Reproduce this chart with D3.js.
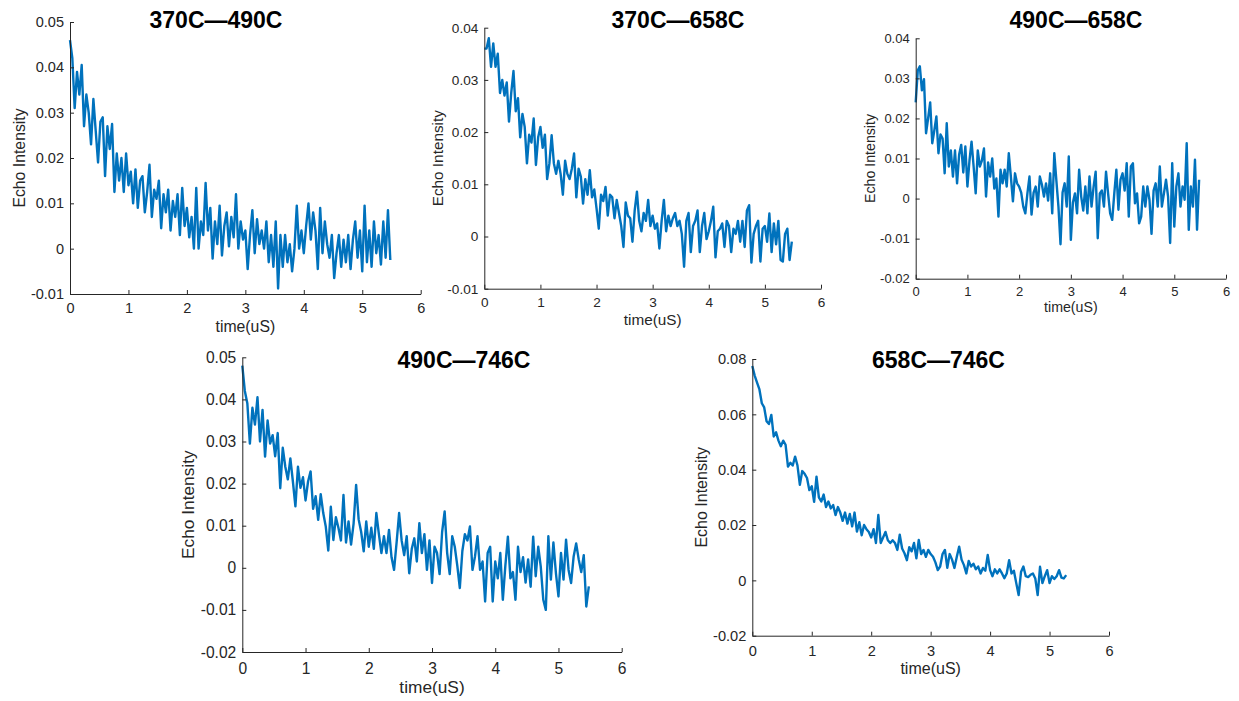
<!DOCTYPE html>
<html>
<head>
<meta charset="utf-8">
<script src="https://cdn.jsdelivr.net/npm/d3@7"></script>
<style>
  body { margin: 0; background: #fff; }
  svg { display: block; }
</style>
</head>
<body>
<svg id="chart" width="1239" height="701"></svg>
<script>
// echo decay traces, one panel per spin-label pair

var titles = ['370C\u2014490C', '370C\u2014658C', '490C\u2014658C', '490C\u2014746C', '658C\u2014746C'];
var xLabel = 'time(uS)';
var yLabel = 'Echo Intensity';
var xTicks = [0, 1, 2, 3, 4, 5, 6];
var yTicks1 = [-0.01, 0, 0.01, 0.02, 0.03, 0.04, 0.05];
var yTicks2 = [-0.01, 0, 0.01, 0.02, 0.03, 0.04];
var yTicks3 = [-0.02, -0.01, 0, 0.01, 0.02, 0.03, 0.04];
var yTicks4 = [-0.02, -0.01, 0, 0.01, 0.02, 0.03, 0.04, 0.05];
var yTicks5 = [-0.02, 0, 0.02, 0.04, 0.06, 0.08];

var timeUs = [
  0, 0.04, 0.08, 0.12, 0.16, 0.2, 0.24, 0.28, 0.32, 0.36,
  0.4, 0.44, 0.48, 0.52, 0.56, 0.6, 0.64, 0.68, 0.72, 0.76,
  0.8, 0.84, 0.88, 0.92, 0.96, 1, 1.04, 1.08, 1.12, 1.16,
  1.2, 1.24, 1.28, 1.32, 1.36, 1.4, 1.44, 1.48, 1.52, 1.56,
  1.6, 1.64, 1.68, 1.72, 1.76, 1.8, 1.84, 1.88, 1.92, 1.96,
  2, 2.04, 2.08, 2.12, 2.16, 2.2, 2.24, 2.28, 2.32, 2.36,
  2.4, 2.44, 2.48, 2.52, 2.56, 2.6, 2.64, 2.68, 2.72, 2.76,
  2.8, 2.84, 2.88, 2.92, 2.96, 3, 3.04, 3.08, 3.12, 3.16,
  3.2, 3.24, 3.28, 3.32, 3.36, 3.4, 3.44, 3.48, 3.52, 3.56,
  3.6, 3.64, 3.68, 3.72, 3.76, 3.8, 3.84, 3.88, 3.92, 3.96,
  4, 4.04, 4.08, 4.12, 4.16, 4.2, 4.24, 4.28, 4.32, 4.36,
  4.4, 4.44, 4.48, 4.52, 4.56, 4.6, 4.64, 4.68, 4.72, 4.76,
  4.8, 4.84, 4.88, 4.92, 4.96, 5, 5.04, 5.08, 5.12, 5.16,
  5.2, 5.24, 5.28, 5.32, 5.36, 5.4, 5.44, 5.48
];

var echo370_490 = [
  0.046, 0.042, 0.031, 0.039, 0.034, 0.0405, 0.027, 0.034, 0.030, 0.023,
  0.033, 0.026, 0.019, 0.028, 0.029, 0.016, 0.027, 0.022, 0.0275, 0.0125,
  0.021, 0.015, 0.020, 0.0125, 0.021, 0.014, 0.017, 0.010, 0.0175, 0.009,
  0.015, 0.016, 0.008, 0.0125, 0.0185, 0.007, 0.013, 0.011, 0.015, 0.0045,
  0.012, 0.008, 0.013, 0.004, 0.0105, 0.007, 0.012, 0.003, 0.0134, 0.005,
  0.009, 0.0025, 0.007, 0.000, 0.0134, 0.000, 0.006, 0.003, 0.0145, 0.004,
  0.009, -0.0022, 0.006, 0.001, 0.0095, -0.0015, 0.005, 0.008, 0.0005, 0.007,
  0.0025, 0.012, 0.000, 0.006, 0.002, 0.004, -0.0045, 0.003, 0.0085, -0.001,
  0.0065, 0.001, 0.004, 0.000, 0.006, -0.003, 0.003, -0.004, 0.006, -0.0088,
  0.003, -0.004, 0.003, -0.003, 0.001, -0.005, 0.000, 0.0095, 0.000, 0.004,
  -0.001, 0.005, 0.010, 0.002, 0.008, 0.004, -0.0045, 0.009, -0.001, 0.006,
  0.001, -0.002, 0.003, -0.0065, -0.001, 0.003, -0.004, 0.002, -0.003, 0.003,
  -0.0045, 0.002, 0.006, -0.002, 0.004, -0.005, 0.0095, -0.003, 0.004, -0.004,
  0.006, -0.001, 0.003, -0.0035, 0.006, -0.002, 0.0085, -0.0025
];

var echo370_658 = [
  0.036, 0.036, 0.038, 0.0325, 0.037, 0.0325, 0.035, 0.0275, 0.030, 0.027,
  0.0295, 0.022, 0.0275, 0.0317, 0.024, 0.0265, 0.019, 0.0235, 0.021, 0.014,
  0.0195, 0.018, 0.0226, 0.0137, 0.019, 0.021, 0.017, 0.0195, 0.011, 0.014,
  0.0194, 0.014, 0.012, 0.0145, 0.012, 0.008, 0.0145, 0.012, 0.011, 0.013,
  0.0159, 0.0075, 0.013, 0.0115, 0.0063, 0.011, 0.008, 0.0127, 0.0075, 0.009,
  0.0054, 0.0015, 0.008, 0.0068, 0.0095, 0.004, 0.008, 0.0075, 0.0035, 0.007,
  0.0045, 0.002, -0.002, 0.0065, 0.004, 0.0035, -0.001, 0.005, 0.0086, 0.003,
  0.001, 0.0045, 0.003, 0.007, 0.002, 0.004, 0.0015, 0.0025, -0.0023, 0.003,
  0.007, 0.001, 0.004, 0.002, 0.0035, 0.0045, 0.002, 0.003, 0.0005, -0.0058,
  0.003, 0.0045, -0.003, 0.002, 0.003, 0.005, -0.003, 0.002, 0.0045, -0.0005,
  0.001, 0.003, 0.0057, -0.004, 0.001, 0.0015, 0.0025, -0.002, 0.003, 0.002,
  -0.003, 0.0015, 0.0005, 0.003, -0.001, 0.003, -0.002, 0.005, 0.006, -0.005,
  0.0005, 0.002, 0.003, -0.0048, 0.0015, 0.002, -0.001, 0.0044, -0.003, 0.0025,
  -0.0015, 0.003, -0.0045, -0.0048, 0.0005, 0.0015, -0.0045, -0.001
];

var echo490_658 = [
  0.024, 0.032, 0.033, 0.027, 0.0298, 0.0163, 0.020, 0.024, 0.0138, 0.017,
  0.0205, 0.0113, 0.016, 0.015, 0.0063, 0.0188, 0.008, 0.012, 0.0055, 0.012,
  0.0038, 0.011, 0.0134, 0.0065, 0.013, 0.003, 0.0095, 0.0142, 0.008, 0.0013,
  0.012, 0.008, 0.0095, 0.0125, 0.0005, 0.009, 0.0055, 0.010, 0.0025, 0.005,
  -0.0045, 0.0072, 0.0038, 0.0072, 0.003, 0.0113, 0.0055, -0.0007, 0.0063, 0.0038,
  0.003, 0.0015, -0.002, -0.0037, 0.0013, 0.0055, -0.004, 0.0015, 0.003, -0.002,
  0.0055, 0.0035, 0.0005, 0.0038, -0.0005, 0.0063, -0.0037, 0.0113, 0.0045, -0.002,
  -0.0114, 0.0015, 0.0038, -0.002, 0.0105, -0.0103, -0.001, 0.0013, -0.0037, 0.0072,
  0.0005, -0.003, 0.003, -0.0037, 0.0055, -0.002, 0.003, 0.0067, -0.0099, 0.0013,
  0.002, -0.002, 0.0067, 0.0013, -0.0037, -0.0053, 0.0013, 0.0072, -0.0028, 0.0047,
  0.0063, 0.002, 0.0088, -0.0045, 0.008, 0.0088, -0.0012, 0.0013, -0.0062, -0.0045,
  0.003, -0.002, 0.003, -0.0003, -0.0088, 0.002, 0.0038, -0.002, 0.008, -0.002,
  0.0013, 0.0047, 0.0005, -0.0111, 0.0088, -0.007, 0.003, 0.0063, -0.002, 0.003,
  -0.0003, 0.0138, -0.0078, 0.003, -0.002, 0.0097, -0.0078, 0.0047
];

var echo490_746 = [
  0.048, 0.042, 0.039, 0.0295, 0.038, 0.034, 0.0405, 0.030, 0.0375, 0.0264,
  0.035, 0.0295, 0.0315, 0.0265, 0.032, 0.0189, 0.0285, 0.024, 0.021, 0.026,
  0.0205, 0.0146, 0.024, 0.019, 0.0215, 0.016, 0.0205, 0.0229, 0.014, 0.017,
  0.0114, 0.0175, 0.013, 0.0098, 0.0041, 0.0145, 0.0066, 0.012, 0.0095, 0.0065,
  0.0173, 0.006, 0.011, 0.0055, 0.0105, 0.0197, 0.0115, 0.0085, 0.0039, 0.011,
  0.005, 0.0095, 0.0045, 0.013, 0.008, 0.0035, 0.0075, 0.0035, 0.009, 0.0025,
  -0.0005, 0.006, 0.013, 0.0065, 0.003, 0.0075, -0.0013, 0.0045, 0.007, 0.0015,
  0.0106, 0.0035, 0.008, -0.0005, 0.0065, -0.0036, 0.005, 0.0035, -0.0015, 0.0085,
  0.0134, 0.0035, -0.0015, 0.0075, 0.005, 0.0005, -0.0048, 0.004, 0.008, 0.0065,
  0.0098, -0.0005, 0.0027, 0.0075, -0.0005, 0.0015, -0.008, 0.0035, 0.005, -0.008,
  0.0015, -0.0025, 0.0035, -0.0076, 0.0005, 0.0074, -0.0025, -0.001, -0.0076, 0.005,
  -0.001, 0.0025, -0.0035, 0.002, -0.0045, 0.0074, -0.002, 0.005, 0.0003, -0.0076,
  -0.010, 0.0075, -0.0028, 0.006, -0.0013, -0.0068, 0.0035, -0.0028, 0.0067, -0.0005,
  -0.0036, 0.0027, 0.0058, 0.002, -0.001, 0.003, -0.0092, -0.0044
];

var echo658_746 = [
  0.0775, 0.074, 0.0715, 0.069, 0.064, 0.0625, 0.0575, 0.0565, 0.0598, 0.052,
  0.0535, 0.0505, 0.0485, 0.0505, 0.049, 0.0411, 0.0425, 0.0415, 0.0447, 0.0415,
  0.0345, 0.0395, 0.0385, 0.037, 0.0326, 0.034, 0.0284, 0.0375, 0.030, 0.0285,
  0.031, 0.0265, 0.0285, 0.026, 0.0272, 0.0236, 0.0265, 0.0245, 0.0215, 0.0245,
  0.0205, 0.024, 0.0195, 0.0245, 0.0176, 0.021, 0.0163, 0.020, 0.0185, 0.0175,
  0.0155, 0.0185, 0.0135, 0.0236, 0.0135, 0.0155, 0.0175, 0.0145, 0.0135, 0.0145,
  0.0135, 0.011, 0.0165, 0.0115, 0.0098, 0.0073, 0.012, 0.0105, 0.0135, 0.008,
  0.0146, 0.0095, 0.011, 0.0085, 0.011, 0.0095, 0.0085, 0.0065, 0.0037, 0.005,
  0.0095, 0.011, 0.0045, 0.0095, 0.0075, 0.0045, 0.0085, 0.0122, 0.0075, 0.0055,
  0.0025, 0.007, 0.005, 0.006, 0.004, 0.005, 0.0025, 0.0045, 0.0035, 0.0092,
  0.0037, 0.0015, 0.004, 0.0025, 0.004, 0.0025, 0.0008, 0.0025, 0.0073, 0.0025,
  0.0035, -0.001, -0.0053, 0.003, 0.005, 0.0015, 0.0012, 0.002, 0.0025, 0.0007,
  -0.0053, 0.0049, -0.001, 0.0015, 0.0037, -0.001, 0.0015, 0.0005, 0.0015, 0.0037,
  0.001, 0.0007, 0.0019
];

var series = [echo370_490, echo370_658, echo490_658, echo490_746, echo658_746];
var yTickSets = [yTicks1, yTicks2, yTicks3, yTicks4, yTicks5];

var layout = [
  {left: 70, right: 420.7, top: 22, bottom: 294, titleX: 216, titleY: 28, tickFs: 14.5, labelFs: 15.8, padX: 9, xLabelY: 331.5, yLabelX: 25},
  {left: 484.3, right: 821, top: 27.7, bottom: 288.7, titleX: 678, titleY: 28, tickFs: 13.6, labelFs: 15.3, padX: 9, xLabelY: 324.5, yLabelX: 442.5},
  {left: 915.7, right: 1226, top: 38.3, bottom: 278.7, titleX: 1076, titleY: 28, tickFs: 13, labelFs: 14.2, padX: 8, xLabelY: 312, yLabelX: 875},
  {left: 242.3, right: 621.7, top: 357.3, bottom: 652, titleX: 464, titleY: 368, tickFs: 15.6, labelFs: 17.3, padX: 10.5, xLabelY: 692.5, yLabelX: 194},
  {left: 752.3, right: 1109, top: 359, bottom: 635.7, titleX: 938.5, titleY: 368, tickFs: 14.6, labelFs: 16, padX: 10.3, xLabelY: 673.5, yLabelX: 706.5}
];

var font = '"Liberation Sans", Arial, Helvetica, sans-serif';
var axisColor = '#262626';
var lineColor = '#0072BD';

function yFormat(d) {
  if (d === 0) return '0';
  return d3.format('.2f')(d).replace('\u2212', '-');
}

var svg = d3.select('#chart');

layout.forEach(function(p, k) {
  var yTicks = yTickSets[k];
  var values = series[k];

  var x = d3.scaleLinear()
      .domain([xTicks[0], xTicks[xTicks.length - 1]])
      .range([p.left, p.right]);
  var y = d3.scaleLinear()
      .domain([yTicks[0], yTicks[yTicks.length - 1]])
      .range([p.bottom, p.top]);

  var g = svg.append('g').attr('class', 'panel');

  var xAxis = d3.axisBottom(x)
      .tickValues(xTicks)
      .tickSizeInner(-4)
      .tickSizeOuter(0)
      .tickPadding(p.padX)
      .tickFormat(d3.format('d'));

  var yAxis = d3.axisLeft(y)
      .tickValues(yTicks)
      .tickSizeInner(-4)
      .tickSizeOuter(0)
      .tickPadding(6)
      .tickFormat(yFormat);

  var line = d3.line()
      .x(function(d, i) { return x(timeUs[i]); })
      .y(function(d) { return y(d); });

  g.append('path')
      .datum(values)
      .attr('d', line)
      .attr('fill', 'none')
      .attr('stroke', lineColor)
      .attr('stroke-width', 2.4)
      .attr('stroke-linejoin', 'round');

  g.append('g')
      .attr('transform', 'translate(0,' + p.bottom + ')')
      .call(xAxis);

  g.append('g')
      .attr('transform', 'translate(' + p.left + ',0)')
      .call(yAxis);

  g.selectAll('.domain, .tick line')
      .attr('stroke', axisColor)
      .attr('stroke-width', 1);

  g.selectAll('.tick text')
      .attr('fill', axisColor)
      .attr('font-family', font)
      .attr('font-size', p.tickFs + 'px');

  g.append('text')
      .attr('x', (p.left + p.right) / 2)
      .attr('y', p.xLabelY)
      .attr('text-anchor', 'middle')
      .attr('font-family', font)
      .attr('font-size', p.labelFs + 'px')
      .attr('fill', axisColor)
      .text(xLabel);

  g.append('text')
      .attr('transform', 'translate(' + p.yLabelX + ',' + (p.top + p.bottom) / 2 + ') rotate(-90)')
      .attr('text-anchor', 'middle')
      .attr('font-family', font)
      .attr('font-size', p.labelFs + 'px')
      .attr('fill', axisColor)
      .text(yLabel);

  g.append('text')
      .attr('x', p.titleX)
      .attr('y', p.titleY)
      .attr('text-anchor', 'middle')
      .attr('font-family', font)
      .attr('font-size', '23px')
      .attr('font-weight', 'bold')
      .attr('fill', '#000')
      .text(titles[k]);
});
</script>
</body>
</html>
